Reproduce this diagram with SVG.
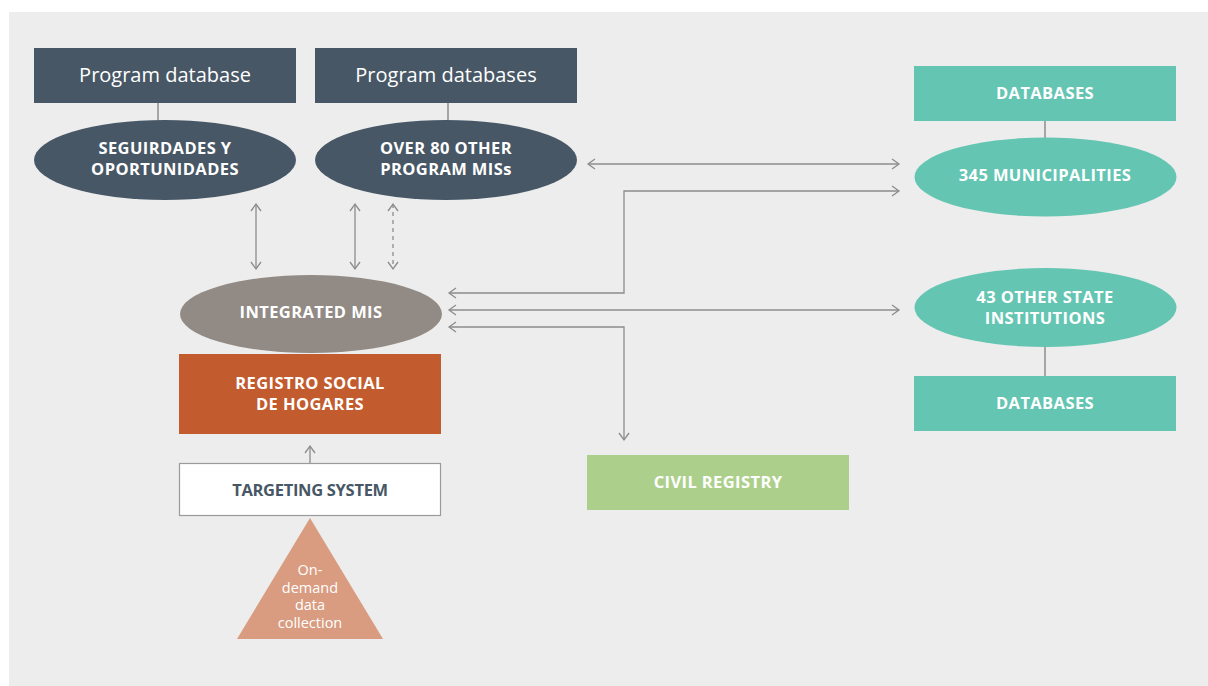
<svg xmlns="http://www.w3.org/2000/svg" width="1208" height="686" viewBox="0 0 1208 686">
<style>
.t{font-family:"Open Sans","Noto Sans","DejaVu Sans",sans-serif;text-anchor:middle;fill:#ffffff}
.b{font-weight:bold;font-size:16.5px;letter-spacing:0.4px}
.r{font-weight:normal;font-size:20px}
.s{font-weight:normal;font-size:14.5px}
.dark{fill:#475766}
.c{fill:none;stroke:#8c8c8c;stroke-width:1.3}
.ln{fill:none;stroke:#8c8c8c;stroke-width:1.5}
</style>
<defs>
<marker id="ah" viewBox="0 0 10 12" refX="8" refY="6" markerWidth="10" markerHeight="12" markerUnits="userSpaceOnUse" orient="auto-start-reverse">
<path d="M1,1 L8,6 L1,11" fill="none" stroke="#8c8c8c" stroke-width="1.3"/>
</marker>
</defs>
<rect x="0" y="0" width="1208" height="686" fill="#ffffff"/>
<rect x="9" y="12" width="1199" height="674" fill="#ECEDEC"/>

<g id="connectors">
<line class="ln" x1="158" y1="103" x2="158" y2="121"/>
<line class="ln" x1="448" y1="103" x2="448" y2="121"/>
<line class="ln" x1="1045" y1="121" x2="1045" y2="138"/>
<line class="ln" x1="1045" y1="346" x2="1045" y2="376"/>
<line class="c" x1="256" y1="204" x2="256" y2="269" marker-start="url(#ah)" marker-end="url(#ah)"/>
<line class="c" x1="355" y1="204" x2="355" y2="269" marker-start="url(#ah)" marker-end="url(#ah)"/>
<line class="c" x1="393" y1="204" x2="393" y2="269" stroke-dasharray="4 4" marker-start="url(#ah)" marker-end="url(#ah)"/>
<line class="c" x1="588" y1="164" x2="899" y2="164" marker-start="url(#ah)" marker-end="url(#ah)"/>
<polyline class="c" points="449,293 624,293 624,191 899,191" marker-start="url(#ah)" marker-end="url(#ah)"/>
<line class="c" x1="449" y1="310" x2="899" y2="310" marker-start="url(#ah)" marker-end="url(#ah)"/>
<polyline class="c" points="449,327 624,327 624,440" marker-start="url(#ah)" marker-end="url(#ah)"/>
<line class="c" x1="310" y1="463" x2="310" y2="446" marker-end="url(#ah)"/>
</g>

<g id="program-database">
<rect x="34" y="48" width="262" height="55" fill="#475766"/>
<text class="t r" x="165" y="82">Program database</text>
</g>
<g id="program-databases">
<rect x="315" y="48" width="262" height="55" fill="#475766"/>
<text class="t r" x="446" y="82">Program databases</text>
</g>
<g id="seguirdades">
<ellipse cx="165" cy="160" rx="131" ry="40" fill="#475766"/>
<text class="t b" x="165" y="154">SEGUIRDADES Y</text>
<text class="t b" x="165" y="175">OPORTUNIDADES</text>
</g>
<g id="over80">
<ellipse cx="446" cy="160" rx="131" ry="40" fill="#475766"/>
<text class="t b" x="446" y="154">OVER 80 OTHER</text>
<text class="t b" x="446" y="175">PROGRAM MISs</text>
</g>
<g id="integrated-mis">
<ellipse cx="311" cy="314" rx="131" ry="39" fill="#928A85"/>
<text class="t b" x="311" y="318">INTEGRATED MIS</text>
</g>
<g id="registro">
<rect x="179" y="354" width="262" height="80" fill="#C25B2D"/>
<text class="t b" x="310" y="389">REGISTRO SOCIAL</text>
<text class="t b" x="310" y="410">DE HOGARES</text>
</g>
<g id="targeting">
<rect x="179.5" y="463.5" width="261" height="52" fill="#ffffff" stroke="#9a9a9a" stroke-width="1.2"/>
<text class="t b dark" x="310" y="496" style="letter-spacing:-0.3px">TARGETING SYSTEM</text>
</g>
<g id="on-demand">
<polygon points="310,518 383,639 237,639" fill="#D99C80"/>
<text class="t s" x="310" y="575">On-</text>
<text class="t s" x="310" y="592.5">demand</text>
<text class="t s" x="310" y="610">data</text>
<text class="t s" x="310" y="627.5">collection</text>
</g>
<g id="civil-registry">
<rect x="587" y="455" width="262" height="55" fill="#ACD08C"/>
<text class="t b" x="718" y="488">CIVIL REGISTRY</text>
</g>
<g id="databases-top">
<rect x="914" y="66" width="262" height="55" fill="#64C5B3"/>
<text class="t b" x="1045" y="99">DATABASES</text>
</g>
<g id="municipalities">
<ellipse cx="1045.5" cy="177" rx="131" ry="39.5" fill="#64C5B3"/>
<text class="t b" x="1045" y="181">345 MUNICIPALITIES</text>
</g>
<g id="state-institutions">
<ellipse cx="1045.5" cy="307.5" rx="131" ry="39.5" fill="#64C5B3"/>
<text class="t b" x="1045" y="303">43 OTHER STATE</text>
<text class="t b" x="1045" y="324">INSTITUTIONS</text>
</g>
<g id="databases-bottom">
<rect x="914" y="376" width="262" height="55" fill="#64C5B3"/>
<text class="t b" x="1045" y="409">DATABASES</text>
</g>
</svg>
